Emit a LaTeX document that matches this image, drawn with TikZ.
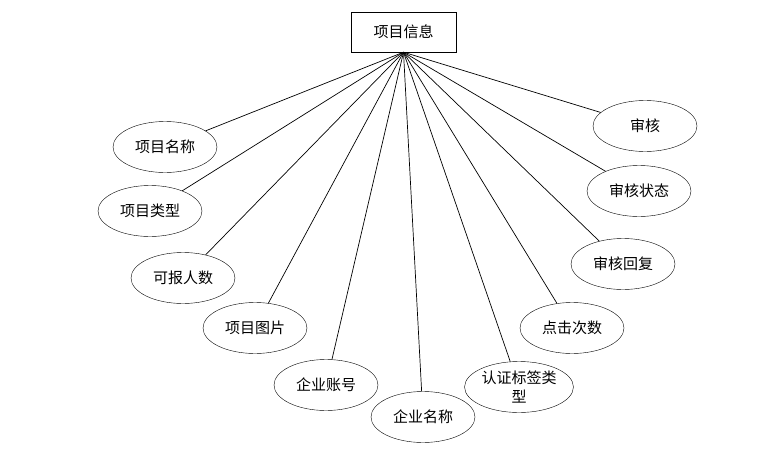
\documentclass[tikz,border=0pt]{standalone}
\usepackage{fontspec}
\newfontfamily\cjk{Noto Sans CJK SC}
\usetikzlibrary{shapes.geometric}

\begin{document}
\begin{tikzpicture}[
    x=1pt, y=-1pt,
    entity/.style={draw, rectangle, minimum width=105pt, minimum height=40pt, inner sep=2pt, font=\cjk\fontsize{15}{18}\selectfont},
    attr/.style={draw, ellipse, minimum width=104pt, minimum height=51pt, inner sep=1pt, align=center, font=\cjk\fontsize{15}{19}\selectfont},
    line/.style={line width=0.7pt}
]
\useasboundingbox (0,0) rectangle (776,452);

% Entity at the top.
\node[entity] (info) at (403.5,32) {项目信息};

% Attributes, left side.
\node[attr] (pname) at (165,147) {项目名称};
\node[attr] (ptype) at (150,211) {项目类型};
\node[attr] (quota) at (183,278) {可报人数};
\node[attr] (pic) at (255,328) {项目图片};
\node[attr] (account) at (326,385) {企业账号};

% Attributes, bottom and right side.
\node[attr] (cname) at (423,417) {企业名称};
\node[attr] (tag) at (519,387) {认证标签类\\型};
\node[attr] (clicks) at (572,328) {点击次数};
\node[attr] (reply) at (623,264) {审核回复};
\node[attr] (status) at (639,191) {审核状态};
\node[attr] (audit) at (645,126) {审核};

% All attributes hang from the bottom of the entity.
\foreach \a in {pname,ptype,quota,pic,account,cname,tag,clicks,reply,status,audit}
    \draw[line] (info.south) -- (\a);

\end{tikzpicture}
\end{document}
